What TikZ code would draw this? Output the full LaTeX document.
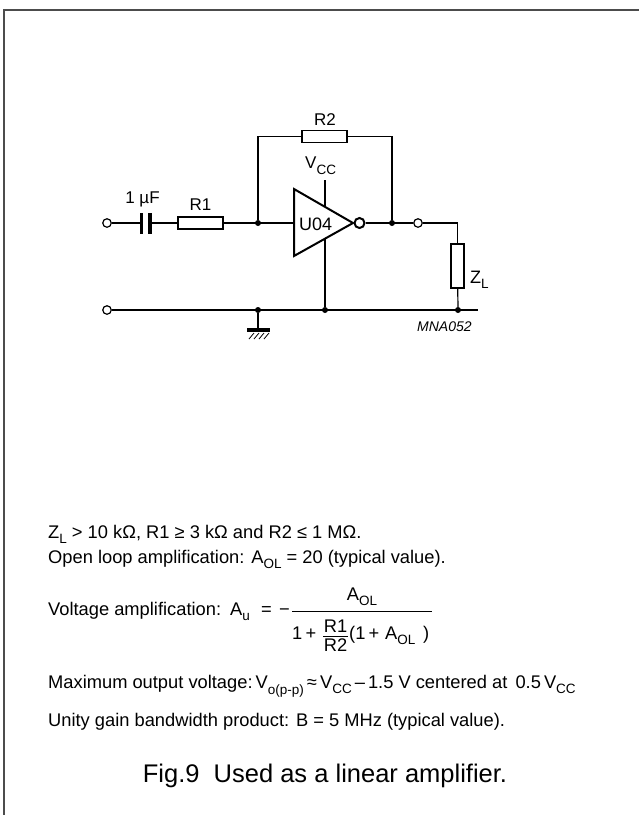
\documentclass[tikz,border=0pt]{standalone}
\usepackage{fontspec}
\setmainfont{Liberation Sans}
\newcommand\lo[2][5pt]{\raisebox{-#1}{\fontsize{13.5}{14}\selectfont #2}}
\begin{document}
\begin{tikzpicture}[x=1pt,y=-1pt,
  wire/.style={line width=1.2pt},
  term/.style={circle,draw,line width=1.2pt,minimum size=8.5pt,inner sep=0pt,fill=white},
  jdot/.style={circle,fill,minimum size=6pt,inner sep=0pt},
  res/.style={rectangle,draw,line width=1.2pt,minimum width=45pt,minimum height=12pt,inner sep=0pt},
  plate/.style={rectangle,fill,minimum width=3.5pt,minimum height=21pt,inner sep=0pt},
  lbl/.style={font=\fontsize{17}{19}\selectfont,inner sep=0pt,anchor=base},
  body/.style={font=\fontsize{18.3}{21}\selectfont,inner sep=0pt,anchor=base west},
]
\useasboundingbox (0,0) rectangle (639,815);
\fill[white] (0,0) rectangle (639,815);
\draw[line width=2pt,black!70] (4,815) -- (4,10) -- (639,10);
% circuit components
\node[term] (in) at (107,223) {};
\node[plate] (c1) at (141.5,223) {};
\node[plate] (c2) at (150,223) {};
\node[res] (r1) at (200.5,223) {};
\node[jdot] (j1) at (258,223) {};
\node[res] (r2) at (324.5,136.5) {};
\node[jdot] (j2) at (392,223) {};
\node[term] (out) at (418,223) {};
\node[res,minimum width=13pt,minimum height=44pt] (zl) at (457.5,266) {};
\node[term] (gin) at (107,310) {};
\node[jdot] (g1) at (258,310) {};
\node[jdot] (g2) at (325,310) {};
\node[jdot] (g3) at (458,310) {};
\coordinate (gend) at (478,310);
% amplifier
\draw[line width=2pt,line join=miter] (294,189) -- (353,223) -- (294,256) -- cycle;
\coordinate (tin) at (294,223);
\coordinate (vtop) at (325,207);
\coordinate (vbot) at (325,238.5);
\coordinate (vcc) at (325,180);
\node[circle,draw,line width=2pt,minimum size=10pt,inner sep=0pt] (bub) at (359.5,223) {};
% wires
\draw[wire] (in) -- (c1);
\draw[wire] (c2) -- (r1);
\draw[wire] (r1) -- (tin);
\draw[wire] (j1) |- (r2);
\draw[wire] (r2) -| (j2);
\draw[wire] (bub) -- (out);
\draw[wire] (out) -| (zl);
\draw[wire] (zl) -- (g3);
\draw[wire] (gin) -- (gend);
\draw[wire] (vtop) -- (vcc);
\draw[wire] (vbot) -- (g2);
% ground symbol
\coordinate (gsym) at (258,329);
\draw[wire] (g1) -- (gsym);
\draw[line width=3.5pt] (247,330) -- (270,330);
\foreach \i in {0,1,2,3} \draw[line width=0.8pt] ({249+5*\i},339) -- ({254+5*\i},333);
% circuit labels
\node[lbl] (lc) at (142.5,203) {1 µF};
\node[lbl] (lr1) at (200.5,210) {R1};
\node[lbl] (lr2) at (325,125) {R2};
\node[lbl,anchor=base west] (lvcc) at (305,168) {V\lo[6pt]{CC}};
\node[lbl,anchor=base west,font=\fontsize{18}{20}\selectfont] (lu) at (299,230.5) {U04};
\node[lbl,anchor=base west,font=\fontsize{18}{20}\selectfont] (lzl) at (470,283) {Z\lo{L}};
\node[lbl,anchor=base west,font=\itshape\fontsize{14}{16}\selectfont] (mna) at (417,331) {MNA052};
% text
\node[body] (t1) at (48,538) {Z\lo{L} > 10 kΩ, R1 ≥ 3 kΩ and R2 ≤ 1 MΩ.};
\node[body] (t2) at (48,563) {Open loop amplification: A\lo{OL} = 20 (typical value).};
\node[body] (t3) at (48,615) {Voltage amplification:};
\node[body] (au) at (230,615) {A\lo{u}};
\node[body] (eq) at (261,615) {=};
\node[body] (mi) at (279,615) {−};
\draw[line width=1pt] (292,611) -- (432,611);
\node[body,anchor=base] (num) at (362,600) {A\lo{OL}};
\node[body] (d1) at (292,639) {1};
\node[body,anchor=base] (d2) at (311,639) {+};
\node[body,anchor=base] (fr1) at (335.5,632) {R1};
\draw[line width=1pt] (323,636) -- (348,636);
\node[body,anchor=base] (fr2) at (335.5,651) {R2};
\node[body] (d3) at (349,639) {(1};
\node[body,anchor=base] (d4) at (374,639) {+};
\node[body] (d5) at (385,639) {A\lo{OL}};
\node[body] (d6) at (423,639) {)};
\node[body] (t4) at (48,688) {Maximum output voltage:\,V\lo[6pt]{o(p-p)}\,≈\,V\lo{CC}\,–\,1.5 V centered at\;\,0.5\,V\lo{CC}};
\node[body] (t5) at (48,726) {Unity gain bandwidth product: B = 5 MHz (typical value).};
\node[font=\fontsize{25.5}{30}\selectfont,inner sep=0pt,anchor=base] (cap) at (325,782) {Fig.9\ \ Used as a linear amplifier.};
\end{tikzpicture}
\end{document}
